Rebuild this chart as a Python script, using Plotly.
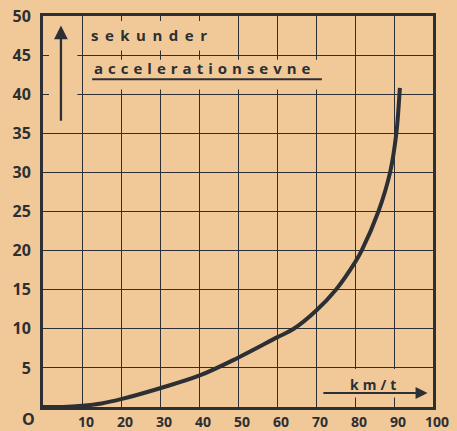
import plotly.graph_objects as go

# ---- data ----
speed_kmh = [0, 5, 10, 15, 20, 30, 40, 50, 60, 64.3, 70, 75.1, 80, 81.7, 86.0, 89.0, 90.6, 91.4, 91.5]
seconds   = [0, 0, 0.15, 0.45, 1.0, 2.4, 4.0, 6.3, 8.9, 10.0, 12.3, 15.0, 18.5, 20.0, 25.0, 30.0, 35.0, 40.0, 40.8]

x_ticks = [10, 20, 30, 40, 50, 60, 70, 80, 90, 100]
x_tick_labels = ["10", "20", "30", "40", "50", "60", "70", "80", "90", "100"]
y_ticks = [5, 10, 15, 20, 25, 30, 35, 40, 45, 50]
y_tick_labels = ["5", "10", "15", "20", "25", "30", "35", "40", "45", "50"]

y_unit = "sekunder"
title = "accelerationsevne"
x_unit = "km/t"

PAPER = "#F1C998"
INK = "#2C2F33"
FONT = "Open Sans"

fig = go.Figure()
fig.add_trace(go.Scatter(
    x=speed_kmh, y=seconds, mode="lines",
    line=dict(color=INK, width=4, shape="spline", smoothing=1.0),
    hoverinfo="skip", showlegend=False,
))

# paper-coloured patches that interrupt the grid where the labels sit
covers = [
    (1.5, 8.8, 35.6, 49.7),
    (11.0, 45.0, 45.6, 50.0),
    (11.0, 75.0, 40.6, 44.4),
    (72.0, 98.9, 1.2, 4.85),
]
for x0, x1, y0, y1 in covers:
    fig.add_shape(type="rect", xref="x", yref="y", x0=x0, x1=x1, y0=y0, y1=y1,
                  fillcolor=PAPER, line=dict(width=0), layer="between")

# underline of the title
fig.add_shape(type="line", xref="x", yref="y", x0=12.6, x1=71.5, y0=41.9, y1=41.9,
              line=dict(color=INK, width=2), layer="above")

fig.add_annotation(x=11.8, y=47.6, xref="x", yref="y", xanchor="left", yanchor="middle",
                   text='<span style="letter-spacing:6.5px">' + y_unit + '</span>',
                   showarrow=False, font=dict(family=FONT, size=15, color=INK, weight="bold"))
fig.add_annotation(x=12.6, y=43.4, xref="x", yref="y", xanchor="left", yanchor="middle",
                   text='<span style="letter-spacing:5px">' + title + '</span>',
                   showarrow=False, font=dict(family=FONT, size=15, color=INK, weight="bold"))
fig.add_annotation(x=85.0, y=2.9, xref="x", yref="y", xanchor="center", yanchor="middle",
                   text='<span style="letter-spacing:4px">' + x_unit + '</span>',
                   showarrow=False, font=dict(family=FONT, size=14, color=INK, weight="bold"))

# arrows
fig.add_annotation(x=4.6, y=48.8, ax=4.6, ay=36.4, xref="x", yref="y", axref="x", ayref="y",
                   text="", showarrow=True, arrowhead=2, arrowsize=1.2, arrowwidth=2.3,
                   arrowcolor=INK, standoff=0, startstandoff=0)
fig.add_annotation(x=98.6, y=1.8, ax=71.5, ay=1.8, xref="x", yref="y", axref="x", ayref="y",
                   text="", showarrow=True, arrowhead=2, arrowsize=1.2, arrowwidth=2,
                   arrowcolor=INK, standoff=0, startstandoff=0)

# the shared zero label
fig.add_annotation(x=0, y=0, xref="x", yref="y", xanchor="center", yanchor="middle",
                   xshift=-15, yshift=-12, text="O", showarrow=False,
                   font=dict(family=FONT, size=16, color=INK, weight="bold"))

fig.update_xaxes(
    range=[0, 100], tickmode="array", tickvals=x_ticks, ticktext=x_tick_labels,
    showgrid=True, gridcolor=INK, gridwidth=1.2, zeroline=False,
    showline=True, linecolor=INK, linewidth=3, mirror="ticks",
    ticks="inside", ticklen=5, tickwidth=1.2, tickcolor=INK,
    ticklabelshift=4, ticklabelstandoff=0, automargin=False,
    tickfont=dict(family=FONT, size=14, color=INK, weight="bold"),
    fixedrange=True,
)
fig.update_yaxes(
    range=[0, 50], tickmode="array", tickvals=y_ticks, ticktext=y_tick_labels,
    showgrid=True, gridcolor=INK, gridwidth=1.2, zeroline=False,
    showline=True, linecolor=INK, linewidth=3, mirror="ticks",
    ticks="inside", ticklen=6, tickwidth=1.2, tickcolor=INK,
    ticklabelstandoff=6, automargin=False,
    tickfont=dict(family=FONT, size=16, color=INK, weight="bold"),
    fixedrange=True,
)

fig.update_layout(
    width=457, height=431,
    margin=dict(l=43, r=24, t=16, b=24, pad=0),
    paper_bgcolor=PAPER, plot_bgcolor=PAPER,
    showlegend=False,
)

fig.write_html("out.html", config={"displayModeBar": False},
               post_script="document.body.style.margin='0px';document.body.style.background='" + PAPER + "';")
